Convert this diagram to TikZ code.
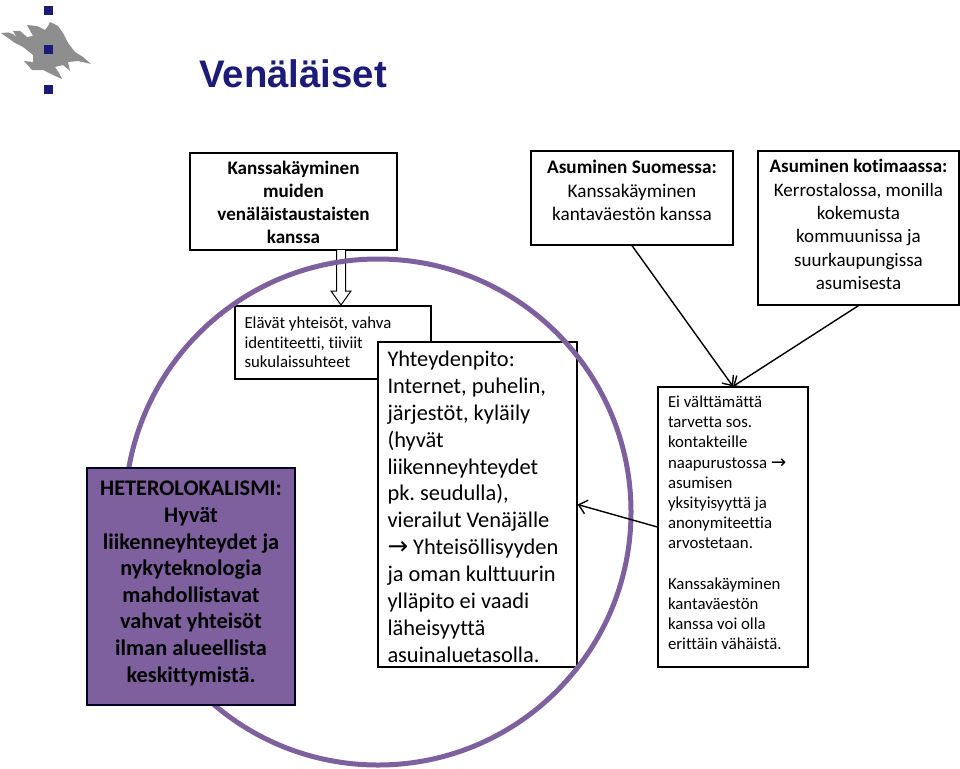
\documentclass[tikz,border=0pt]{standalone}
\usepackage{fontspec}
\setmainfont[RawFeature={-liga}]{Carlito}
\newfontfamily\titlefont{Liberation Sans}
\newfontfamily\arrowfont{DejaVu Sans}
\usepackage{tikz}
\usetikzlibrary{arrows.meta}
\definecolor{ringpurple}{HTML}{7F609F}
\definecolor{titlenavy}{HTML}{1C1C78}
\definecolor{flamegray}{HTML}{8E8E8E}
\tikzstyle{arrow} = [line width=1.4pt,-{Straight Barb[length=8pt,width=14pt]}]
\newcommand{\txtarrow}{{\arrowfont\scalebox{1.1}{→}}}
\frenchspacing
\begin{document}
\begin{tikzpicture}[x=1pt,y=-1pt]
	\useasboundingbox (0,0) rectangle (960,768);
	\coordinate (kanssa) at (293.5,201.5);
	\coordinate (suomessa) at (632,198);
	\coordinate (kotimaassa) at (858.5,228);
	\coordinate (elavat) at (333,342.5);
	\coordinate (yhteys) at (477.5,504.5);
	\coordinate (hetero) at (191,586.5);
	\coordinate (eivalt) at (733,527);
	\coordinate (ringcentre) at (378,512);
	\coordinate (arrowtop) at (341,250);
	% Logo
	\fill[flamegray] (1,33) -- (8,32.5) -- (13,34) -- (17,38) -- (13,31) -- (20,31) -- (27,37) -- (33,36)
		-- (27,25) -- (37,26) -- (45,30) -- (48,26) -- (50,22) -- (58,26) -- (63,33) -- (68,43) -- (75,52)
		-- (83,57) -- (91,64) -- (78,61) -- (68,62) -- (70,71) -- (63,65) -- (55,67) -- (59,73) -- (62,79)
		-- (53,75) -- (43,70) -- (32,70) -- (24,61) -- (33,62) -- (33,55) -- (23,47) -- (15,43) -- (8,38) -- cycle;
	\foreach \sqy in {10.3,49.7,89.3}
		\fill[titlenavy] (44.3,\sqy-4.5) rectangle (53.3,\sqy+4.5);
	% Title
	\node[name=title, anchor=west, inner sep=0pt, text=titlenavy, font=\titlefont\bfseries\fontsize{38.4}{44}\selectfont] at (199,74) {Venäläiset};
	% Top left box and its block arrow
	\node[name=kanssa, draw, line width=1.2pt, fill=white, minimum width=207pt, minimum height=97pt, align=center, font=\bfseries\fontsize{19.1}{23}\selectfont] at (kanssa) {\rule{0pt}{16pt}Kanssakäyminen\\muiden\\venäläistaustaisten\\kanssa};
	\draw[line width=1pt, fill=white, shift={(arrowtop)}] (-4.5,0) -- (-4.5,41) -- (-10,41) -- (0,55) -- (10,41) -- (4.5,41) -- (4.5,0);
	% Boxes under the ring
	\begin{scope}[every node/.style={draw, line width=1.2pt, fill=white, inner xsep=9.5pt, align=flush left}]
	\node[name=elavat, minimum height=73pt, text width=177pt, font=\fontsize{16.8}{19.6}\selectfont] at (elavat) {Elävät yhteisöt, vahva\\identiteetti, tiiviit\\sukulaissuhteet};
	\node[name=yhteys, minimum height=325pt, text width=180pt, font=\fontsize{22.4}{26.9}\selectfont] at (yhteys) {\rule{0pt}{20pt}Yhteydenpito:\\Internet, puhelin,\\järjestöt, kyläily\\(hyvät\\liikenneyhteydet\\pk. seudulla),\\vierailut Venäjälle\\\txtarrow{} Yhteisöllisyyden\\ja oman kulttuurin\\ylläpito ei vaadi\\läheisyyttä\\asuinaluetasolla.};
	\end{scope}
	% Ring
	\node[name=ring, draw=ringpurple, line width=5pt, circle, minimum size=506pt] at (ringcentre) {};
	\node[name=hetero, draw=black!85!blue, line width=1.2pt, fill=ringpurple, minimum width=208pt, minimum height=237pt, align=center, font=\bfseries\fontsize{22.3}{26.6}\selectfont] at (hetero) {HETEROLOKALISMI:\\Hyvät\\liikenneyhteydet ja\\nykyteknologia\\mahdollistavat\\vahvat yhteisöt\\ilman alueellista\\keskittymistä.\\[-17pt]\mbox{}};
	% Right hand boxes
	\begin{scope}[every node/.style={draw, line width=1.2pt, fill=white, align=center}]
	\node[name=suomessa, minimum width=202pt, minimum height=94pt, font=\fontsize{19.2}{23.3}\selectfont] at (suomessa) {\textbf{Asuminen Suomessa:}\\Kanssakäyminen\\kantaväestön kanssa\\[-8pt]\mbox{}};
	\node[name=kotimaassa, minimum width=201pt, minimum height=154pt, font=\fontsize{19}{23.3}\selectfont] at (kotimaassa) {\textbf{Asuminen kotimaassa:}\\Kerrostalossa, monilla\\kokemusta\\kommuunissa ja\\suurkaupungissa\\asumisesta\\[-16.3pt]\mbox{}};
	\end{scope}
	\node[name=eivalt, draw, line width=1.2pt, fill=white, inner xsep=10pt, text width=130pt, minimum height=280pt, align=flush left, font=\fontsize{16.8}{20.2}\selectfont] at (eivalt) {Ei välttämättä\\tarvetta sos.\\kontakteille\\naapurustossa \txtarrow\\asumisen\\yksityisyyttä ja\\anonymiteettia\\arvostetaan.\\\mbox{}\\Kanssakäyminen\\kantaväestön\\kanssa voi olla\\erittäin vähäistä.\\[-12pt]\mbox{}};
	% Connectors
	\draw [arrow] (suomessa.south)--(eivalt.north);
	\draw [arrow] (kotimaassa.south)--(eivalt.north);
	\draw [arrow] (eivalt.west)--(yhteys.east);
\end{tikzpicture}
\end{document}
